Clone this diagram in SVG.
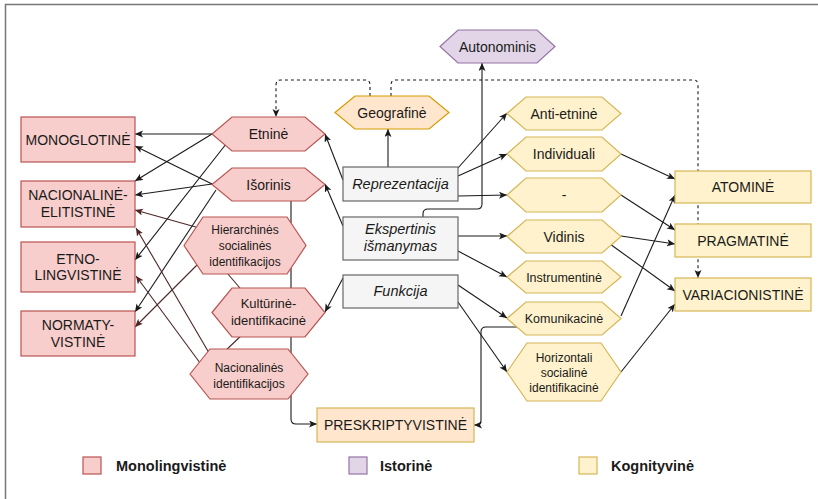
<svg xmlns="http://www.w3.org/2000/svg" width="818" height="499" viewBox="0 0 818 499">
<style>
text{font-family:"Liberation Sans",Arial,sans-serif;fill:#1a1a1a;text-anchor:middle}
.b14{font-size:14px}
.t12{font-size:12px}
.t13{font-size:13px}
.it{font-size:14.5px;font-style:italic}
.pink{fill:#f8cecc;stroke:#b85450;stroke-width:1.2}
.yel{fill:#fff2cc;stroke:#d6b656;stroke-width:1.2}
.org{fill:#ffe6cc;stroke:#d79b00;stroke-width:1.2}
.pur{fill:#e1d5e7;stroke:#9673a6;stroke-width:1.2}
.gry{fill:#f5f5f5;stroke:#666666;stroke-width:1.2}
.c{fill:none;stroke:#1a1a1a;stroke-width:1.1;marker-end:url(#arr)}
.br{fill:none;stroke:#4d2626;stroke-width:1.1;marker-end:url(#arrb)}
.brn{fill:none;stroke:#4d2626;stroke-width:1.1}
.d{fill:none;stroke:#1a1a1a;stroke-width:1.1;stroke-dasharray:3 3;marker-end:url(#arr)}
.leg{font-size:14.5px;font-weight:bold;text-anchor:start}
</style>
<defs>
<marker id="arr" markerUnits="userSpaceOnUse" markerWidth="9" markerHeight="8" refX="8" refY="3.5" orient="auto">
<path d="M0,0 L8,3.5 L0,7 L2,3.5 Z" fill="#1a1a1a"/>
</marker>
<marker id="arrb" markerUnits="userSpaceOnUse" markerWidth="9" markerHeight="8" refX="8" refY="3.5" orient="auto">
<path d="M0,0 L8,3.5 L0,7 L2,3.5 Z" fill="#4d2626"/>
</marker>
</defs>
<rect x="0" y="0" width="818" height="499" fill="#ffffff"/>
<rect x="5.5" y="4.5" width="830" height="520" fill="none" stroke="#777777" stroke-width="1.5"/>

<g id="connectors">
<path class="d" d="M370,96 V85 Q370,80 365,80 H281 Q276,80 276,85 V117"/>
<path class="d" d="M391,96 V85 Q391,80 396,80 H693 Q698,80 698,85 V278"/>
<path class="c" d="M388,167 V129"/>
<path class="c" d="M343,180 L325,134"/>
<path class="c" d="M458,168 L507,113"/>
<path class="c" d="M458,176 L507,154"/>
<path class="c" d="M458,196 L507,195"/>
<path class="c" d="M343,226 L325,184"/>
<path class="c" d="M423,217 V214 Q423,209 428,209 H477 Q482,209 482,204 V63"/>
<path class="c" d="M458,236 L507,236"/>
<path class="c" d="M458,251 L507,277"/>
<path class="c" d="M343,278 L325,312"/>
<path class="c" d="M458,285 L507,318"/>
<path class="c" d="M458,302 L507,372"/>
<path class="c" d="M525,327 H486 Q481,327 481,332 V420 Q481,425 476,425 H474"/>
<path class="c" d="M621,316 L675,195"/>
<path class="c" d="M621,154 L675,179"/>
<path class="c" d="M621,195 L675,230"/>
<path class="c" d="M621,236 L675,244"/>
<path class="c" d="M610,244 L675,291"/>
<path class="c" d="M621,372 L675,304"/>
<path class="c" d="M291,201 V419 Q291,424 296,424 H317"/>
<path class="c" d="M212,134 H135"/>
<path class="c" d="M212,134 L135,181"/>
<path class="c" d="M230,139 L135,260"/>
<path class="c" d="M212,184 L135,146"/>
<path class="c" d="M212,184 L135,195"/>
<path class="c" d="M216,190 L135,312"/>
<path class="br" d="M210,231 L135,210"/>
<path class="br" d="M205,257 L135,327"/>
<path class="br" d="M212,358 L136,228"/>
<path class="br" d="M203,367 L136,276"/>
<path class="brn" d="M222,267 L245,294"/>
<path class="brn" d="M245,332 L222,354"/>
</g>

<g id="monoglotine"><rect class="pink" x="21" y="117" width="114" height="45"/><text class="b14" x="78" y="144.5">MONOGLOTINĖ</text></g>
<g id="nacionaline-elitistine"><rect class="pink" x="21" y="181" width="114" height="46"/><text class="b14" x="78" y="200">NACIONALINĖ-</text><text class="b14" x="78" y="217">ELITISTINĖ</text></g>
<g id="etno-lingvistine"><rect class="pink" x="21" y="242" width="114" height="50"/><text class="b14" x="78" y="264">ETNO-</text><text class="b14" x="78" y="280">LINGVISTINĖ</text></g>
<g id="normatyvistine"><rect class="pink" x="21" y="311" width="114" height="45"/><text class="b14" x="78" y="330">NORMATY-</text><text class="b14" x="78" y="347">VISTINĖ</text></g>

<g id="etnine"><polygon class="pink" points="212,134 232,117 305,117 325,134 305,151 232,151"/><text class="b14" x="268.5" y="139">Etninė</text></g>
<g id="isorinis"><polygon class="pink" points="212,184.5 232,168 305,168 325,184.5 305,201 232,201"/><text class="b14" x="268.5" y="189.5">Išorinis</text></g>
<g id="hierarchines"><polygon class="pink" points="184,245.5 203,217 287,217 306,245.5 287,274 203,274"/><text class="t12" x="245" y="234">Hierarchinės</text><text class="t12" x="245" y="250">socialinės</text><text class="t12" x="245" y="266">identifikacijos</text></g>
<g id="kulturine"><polygon class="pink" points="212,312.5 232,288 305,288 325,312.5 305,337 232,337"/><text class="t13" x="268.5" y="308">Kultūrinė-</text><text class="t13" x="268.5" y="325">identifikacinė</text></g>
<g id="nacionalines"><polygon class="pink" points="190,374 210,349 288,349 308,374 288,399 210,399"/><text class="t12" x="249" y="372">Nacionalinės</text><text class="t12" x="249" y="388">identifikacijos</text></g>

<g id="geografine"><polygon class="org" points="335,112.5 355,96 429,96 449,112.5 429,129 355,129"/><text class="b14" x="392" y="117.5">Geografinė</text></g>
<g id="autonominis"><polygon class="pur" points="440,46.5 458,30 537,30 555,46.5 537,63 458,63"/><text class="b14" x="497.5" y="51.5">Autonominis</text></g>

<g id="reprezentacija"><rect class="gry" x="343" y="167" width="115" height="34"/><text class="it" x="400.5" y="189">Reprezentacija</text></g>
<g id="ekspertinis"><rect class="gry" x="343" y="217" width="115" height="43"/><text class="it" x="400.5" y="234">Ekspertinis</text><text class="it" x="400.5" y="251">išmanymas</text></g>
<g id="funkcija"><rect class="gry" x="343" y="275" width="115" height="33"/><text class="it" x="400.5" y="296">Funkcija</text></g>

<g id="anti-etnine"><polygon class="yel" points="507,113.5 526,97 602,97 621,113.5 602,130 526,130"/><text class="b14" x="564" y="118.5">Anti-etninė</text></g>
<g id="individuali"><polygon class="yel" points="507,154 526,137 602,137 621,154 602,171 526,171"/><text class="b14" x="564" y="159">Individuali</text></g>
<g id="bruksnys"><polygon class="yel" points="507,195 526,178 602,178 621,195 602,212 526,212"/><text class="b14" x="564" y="200">-</text></g>
<g id="vidinis"><polygon class="yel" points="507,236.5 526,220 602,220 621,236.5 602,253 526,253"/><text class="b14" x="564" y="241.5">Vidinis</text></g>
<g id="instrumentine"><polygon class="yel" points="507,277 526,261 602,261 621,277 602,293 526,293"/><text class="t12" x="564" y="281.5" style="font-size:12.5px">Instrumentinė</text></g>
<g id="komunikacine"><polygon class="yel" points="507,318.5 526,302 602,302 621,318.5 602,335 526,335"/><text class="t12" x="564" y="323" style="font-size:12.5px">Komunikacinė</text></g>
<g id="horizontali"><polygon class="yel" points="507,372 527,343 601,343 621,372 601,401 527,401"/><text class="t12" x="564" y="362">Horizontali</text><text class="t12" x="564" y="377">socialinė</text><text class="t12" x="564" y="392">identifikacinė</text></g>

<g id="atomine"><rect class="yel" x="675" y="171" width="136" height="32"/><text class="b14" x="743" y="192">ATOMINĖ</text></g>
<g id="pragmatine"><rect class="yel" x="675" y="224" width="136" height="33"/><text class="b14" x="743" y="245.5">PRAGMATINĖ</text></g>
<g id="variacionistine"><rect class="yel" x="675" y="278" width="136" height="33"/><text class="b14" x="743" y="299.5">VARIACIONISTINĖ</text></g>
<g id="preskriptyvistine"><rect class="org" x="317" y="408" width="157" height="34" style="stroke:#d6b656"/><text class="b14" x="395.5" y="430">PRESKRIPTYVISTINĖ</text></g>

<g id="legend">
<rect class="pink" x="83" y="457" width="18" height="17"/><text class="leg" x="116" y="471">Monolingvistinė</text>
<rect class="pur" x="349" y="457" width="18" height="17"/><text class="leg" x="380" y="471">Istorinė</text>
<rect class="yel" x="579" y="457" width="18" height="17"/><text class="leg" x="611" y="471">Kognityvinė</text>
</g>
</svg>
